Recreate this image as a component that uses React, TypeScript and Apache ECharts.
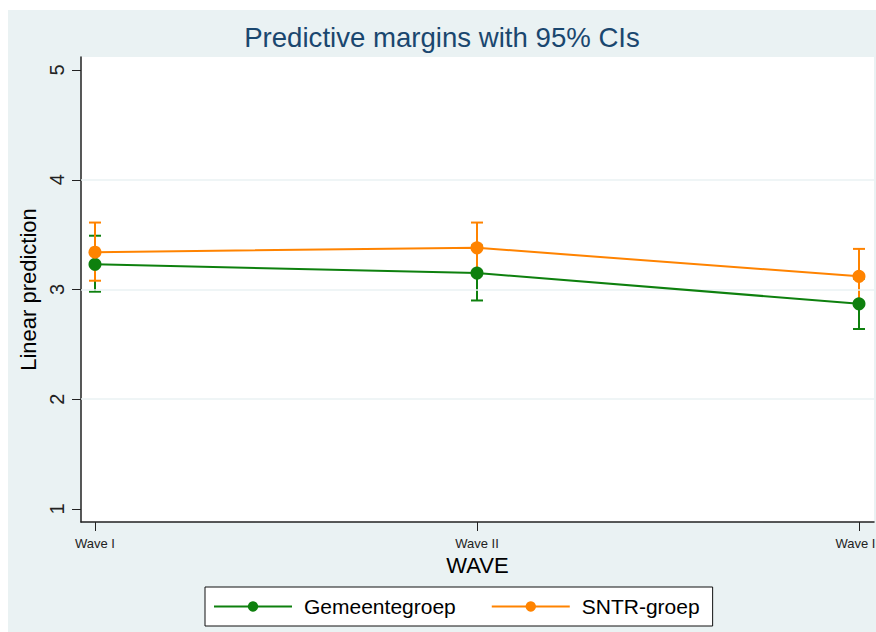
import React, { useEffect, useRef } from "react";
import * as echarts from "echarts";

const waves = ["Wave I", "Wave II", "Wave III"];
const wavePos = [1, 2, 3];
const gemMean = [3.23, 3.15, 2.87];
const gemLow = [2.98, 2.9, 2.64];
const gemHigh = [3.49, 3.4, 3.1];
const sntrMean = [3.34, 3.38, 3.12];
const sntrLow = [3.08, 3.14, 2.87];
const sntrHigh = [3.61, 3.61, 3.37];
const yTicks = [1, 2, 3, 4, 5];
const gridValues = [2, 3, 4];

const GREEN = "#0e800e";
const ORANGE = "#ff8300";
const FONT = "'Liberation Sans', Arial, Helvetica, sans-serif";

function errorSeries(name: string, low: number[], high: number[], color: string, z: number) {
  return {
    type: "custom",
    name: name + "-ci",
    z,
    silent: true,
    data: wavePos.map((p, i) => [p, low[i], high[i]]),
    encode: { x: 0, y: [1, 2] },
    renderItem: (params: any, api: any) => {
      const x = api.value(0);
      const lo = api.coord([x, api.value(1)]);
      const hi = api.coord([x, api.value(2)]);
      const half = 6;
      const style = { stroke: color, lineWidth: 2 };
      return {
        type: "group",
        children: [
          { type: "line", shape: { x1: lo[0], y1: lo[1], x2: hi[0], y2: hi[1] }, style },
          { type: "line", shape: { x1: lo[0] - half, y1: lo[1], x2: lo[0] + half, y2: lo[1] }, style },
          { type: "line", shape: { x1: hi[0] - half, y1: hi[1], x2: hi[0] + half, y2: hi[1] }, style },
        ],
      };
    },
  };
}

export default function App() {
  const ref = useRef<HTMLDivElement>(null);
  useEffect(() => {
    if (!ref.current) return;
    const chart = echarts.init(ref.current, undefined, { renderer: "svg" });
    chart.setOption({
      animation: false,
      backgroundColor: "#eaf2f3",
      textStyle: { fontFamily: FONT },
      title: {
        text: "Predictive margins with 95% CIs",
        left: "center",
        top: 13,
        padding: [0, 0, 0, 12],
        textStyle: { fontFamily: FONT, fontSize: 27.6, fontWeight: "normal", color: "#1a476f" },
      },
      grid: {
        left: 73,
        right: 2,
        top: 47,
        bottom: 110,
        show: true,
        backgroundColor: "#ffffff",
        borderWidth: 0,
        containLabel: false,
        outerBoundsMode: "none",
      },
      xAxis: {
        type: "value",
        min: 0.9634,
        max: 3.0393,
        name: "WAVE",
        nameLocation: "middle",
        nameGap: 27,
        nameTextStyle: { fontFamily: FONT, fontSize: 22, color: "#000" },
        axisLine: { show: true, lineStyle: { color: "#222", width: 1.5 } },
        axisTick: { show: true, length: 9, customValues: wavePos, lineStyle: { color: "#222", width: 1 } },
        axisLabel: {
          customValues: wavePos,
          margin: 15,
          fontSize: 13,
          color: "#222",
          hideOverlap: false,
          formatter: (v: number) => waves[wavePos.indexOf(v)] ?? "",
        },
        splitLine: { show: false },
      },
      yAxis: {
        type: "value",
        min: 0.8815,
        max: 5.1185,
        name: "Linear prediction",
        nameLocation: "middle",
        nameGap: 32,
        nameTextStyle: { fontFamily: FONT, fontSize: 22, color: "#000" },
        axisLine: { show: true, lineStyle: { color: "#222", width: 1.5 } },
        axisTick: { show: true, length: 9, customValues: yTicks, lineStyle: { color: "#222", width: 1 } },
        axisLabel: { customValues: yTicks, rotate: 90, margin: 14, fontSize: 20, color: "#222" },
        splitLine: { show: false },
      },
      legend: {
        data: ["Gemeentegroep", "SNTR-groep"],
        left: 197,
        top: 577,
        orient: "horizontal",
        backgroundColor: "#ffffff",
        borderColor: "#111",
        borderWidth: 1,
        borderRadius: 0,
        padding: [9, 13, 9, 8],
        itemWidth: 78,
        itemHeight: 13,
        itemGap: 35,
        textStyle: { fontFamily: FONT, fontSize: 21, color: "#000", padding: [0, 0, 0, 7] },
      },
      series: [
        {
          type: "line",
          name: "grid",
          data: [],
          silent: true,
          z: 1,
          markLine: {
            silent: true,
            symbol: "none",
            label: { show: false },
            lineStyle: { color: "#eaf2f3", width: 1.5, type: "solid" },
            data: gridValues.map((v) => ({ yAxis: v })),
          },
        },
        errorSeries("Gemeentegroep", gemLow, gemHigh, GREEN, 3),
        errorSeries("SNTR-groep", sntrLow, sntrHigh, ORANGE, 4),
        {
          type: "line",
          name: "Gemeentegroep",
          z: 5,
          data: wavePos.map((p, i) => [p, gemMean[i]]),
          symbol: "circle",
          symbolSize: 13,
          lineStyle: { color: GREEN, width: 2 },
          itemStyle: { color: GREEN },
        },
        {
          type: "line",
          name: "SNTR-groep",
          z: 6,
          data: wavePos.map((p, i) => [p, sntrMean[i]]),
          symbol: "circle",
          symbolSize: 13,
          lineStyle: { color: ORANGE, width: 2 },
          itemStyle: { color: ORANGE },
        },
      ],
    });
    return () => chart.dispose();
  }, []);
  return (
    <div
      ref={ref}
      style={{ position: "absolute", left: 8, top: 10, width: 868, height: 622 }}
    />
  );
}
